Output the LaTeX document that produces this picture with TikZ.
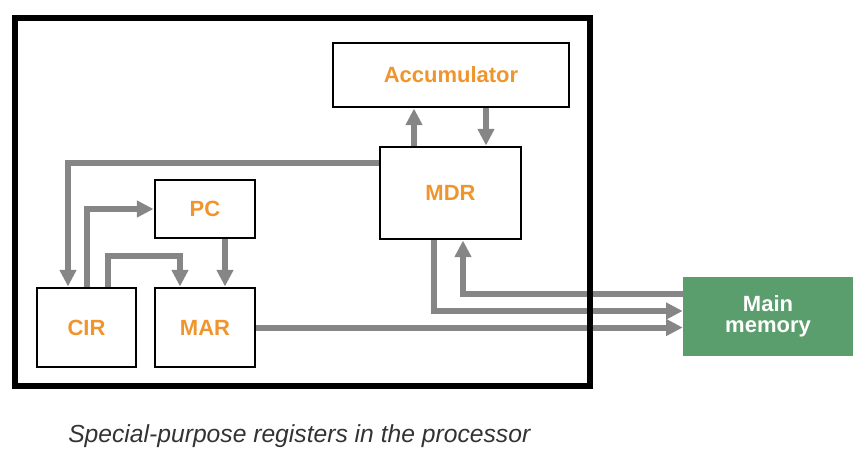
\documentclass[tikz,border=0pt]{standalone}
\usepackage{fontspec}
\setsansfont{Liberation Sans}
\usetikzlibrary{arrows.meta}
\definecolor{regorange}{HTML}{F0952D}
\definecolor{memgreen}{HTML}{5B9E6D}
\definecolor{busgray}{HTML}{868686}
\definecolor{capgray}{HTML}{333333}

\begin{document}
\begin{tikzpicture}[x=.75pt,y=-.75pt,
        reg/.style={draw,line width=2.2pt,inner sep=0pt,text=regorange,font=\sffamily\bfseries\fontsize{16.5}{18}\selectfont},
        bus/.style={draw=busgray,line width=4.5pt,-{Triangle[length=12.5pt,width=12pt]}}]
                \useasboundingbox (0,0) rectangle (864,458);
                \foreach \x/\y/\w/\h/\n/\t in {451/75/236/64/acc/Accumulator, 450.5/193/141/92/mdr/MDR, 205/209/100/58/pc/PC, 86.5/327.5/99/79/cir/CIR, 205/327.5/100/79/mar/MAR}
                \node[reg,minimum width=\w*.75pt,minimum height=\h*.75pt] (\n) at (\x,\y) {\t};
                \node[fill=memgreen,inner sep=0pt,minimum width=170*.75pt,minimum height=79*.75pt,align=center,text=white,font=\sffamily\bfseries\fontsize{16.5}{16}\selectfont] (mem) at (768,316.5) {Main\\memory};
                \draw[bus] (mdr.west |- 0,163) -| (cir.north -| 68,0);
                \draw[bus] (cir.north -| 87,0) |- (pc.west);
                \draw[bus] (cir.north -| 108,0) -- ++(0,-31) -| (mar.north -| 180,0);
                \draw[bus] (pc.south -| 225,0) -- (mar.north -| 225,0);
                \draw[bus] (mdr.north -| 414,0) -- (acc.south -| 414,0);
                \draw[bus] (acc.south -| 486,0) -- (mdr.north -| 486,0);
                \draw[bus] (mem.west |- 0,294) -| (mdr.south -| 463,0);
                \draw[bus] (mdr.south -| 434,0) |- (mem.west |- 0,311);
                \draw[bus] (mar.east) -- (mem.west |- mar.east);
                \node[draw,line width=4.5pt,inner sep=0pt,minimum width=575*.75pt,minimum height=368*.75pt] (cpu) at (302.5,202) {};
                \node[anchor=west,inner sep=0pt,text=capgray,font=\sffamily\itshape\fontsize{18.5}{22}\selectfont] (caption) at (68,436) {Special-purpose registers in the processor};
            \end{tikzpicture}
\end{document}
